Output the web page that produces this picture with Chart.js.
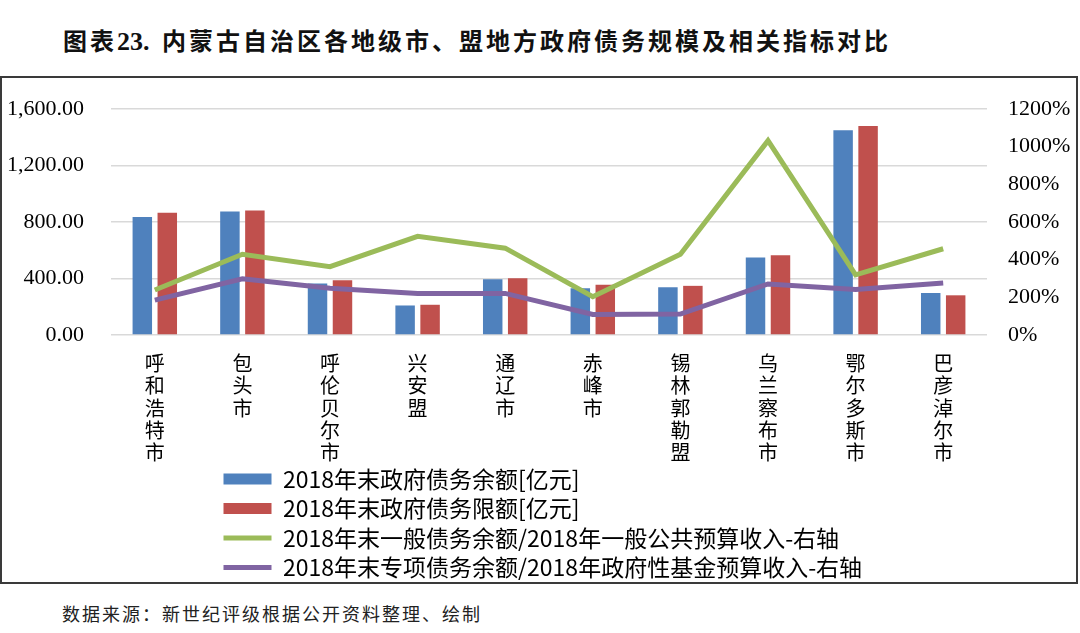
<!DOCTYPE html>
<html>
<head>
<meta charset="utf-8">
<title>内蒙古自治区各地级市、盟地方政府债务规模及相关指标对比</title>
<script src="https://cdn.jsdelivr.net/npm/chart.js"></script>
<style>
    body {
        margin: 0;
        background: #fff;
        width: 1080px;
        height: 633px;
        overflow: hidden;
        position: relative;
        font-family: 'Noto Sans CJK SC', sans-serif;
    }
    .title {
        position: absolute;
        left: 63px;
        top: 24px;
        font-size: 24px;
        font-weight: bold;
        letter-spacing: 3px;
        color: #111;
        white-space: nowrap;
        line-height: 32px;
    }
    .title .num {
        font-family: 'Liberation Serif', serif;
        font-size: 26px;
        letter-spacing: 0;
        margin-right: 4px;
    }
    .chart-box {
        position: absolute;
        left: 0;
        top: 76px;
        width: 1078px;
        height: 508px;
        border: 2px solid #3a3a3a;
        box-sizing: border-box;
    }
    .source {
        position: absolute;
        left: 62px;
        top: 600px;
        font-size: 18px;
        letter-spacing: 2px;
        color: #222;
        line-height: 26px;
        white-space: nowrap;
    }
</style>
</head>
<body>
<div class="title">图表<span class="num">23.</span> 内蒙古自治区各地级市、盟地方政府债务规模及相关指标对比</div>
<div class="chart-box"><canvas id="chart" width="1074" height="504"></canvas></div>
<div class="source">数据来源：新世纪评级根据公开资料整理、绘制</div>

<script>
    // data
    const cities = ['呼和浩特市', '包头市', '呼伦贝尔市', '兴安盟', '通辽市', '赤峰市', '锡林郭勒盟', '乌兰察布市', '鄂尔多斯市', '巴彦淖尔市'];
    const debtBalance = [836, 874, 364, 209, 395, 331, 338, 548, 1450, 298];   // 亿元
    const debtLimit = [866, 881, 388, 214, 402, 355, 348, 564, 1479, 281];     // 亿元
    const generalRatio = [239, 429, 363, 524, 461, 203, 429, 1032, 319, 458];  // %
    const specialRatio = [185, 298, 248, 221, 221, 109, 111, 271, 242, 276];   // %
    const leftTicks = [0, 400, 800, 1200, 1600];
    const rightTicks = [0, 200, 400, 600, 800, 1000, 1200];

    const seriesNames = [
        '2018年末政府债务余额[亿元]',
        '2018年末政府债务限额[亿元]',
        '2018年末一般债务余额/2018年一般公共预算收入-右轴',
        '2018年末专项债务余额/2018年政府性基金预算收入-右轴'
    ];
    const colors = ['#4F81BD', '#C0504D', '#9BBB59', '#8064A2'];

    const CANVAS_H = 504;
    const AREA_BOTTOM = 257;

    // put the legend rows where the reference has them
    const legendPlacer = {
        id: 'legendPlacer',
        afterLayout(chart) {
            const lg = chart.legend;
            lg.left = 215;
            lg.right = 870;
            lg.top = 383;
        }
    };

    const serifTicks = { family: "'Liberation Serif', 'Times New Roman', serif", size: 22 };

    // tick padding should not push the plot area in
    function noVPad(scale) {
        scale.paddingTop = 0;
        scale.paddingBottom = 0;
    }

    new Chart(document.getElementById('chart'), {
        type: 'bar',
        data: {
            labels: cities.map(c => Array.from(c)),
            datasets: [
                {
                    label: seriesNames[0],
                    data: debtBalance,
                    backgroundColor: colors[0],
                    yAxisID: 'y',
                    order: 1,
                    categoryPercentage: 0.57,
                    barPercentage: 0.78
                },
                {
                    label: seriesNames[1],
                    data: debtLimit,
                    backgroundColor: colors[1],
                    yAxisID: 'y',
                    order: 1,
                    categoryPercentage: 0.57,
                    barPercentage: 0.78
                },
                {
                    type: 'line',
                    label: seriesNames[2],
                    data: generalRatio,
                    borderColor: colors[2],
                    backgroundColor: colors[2],
                    borderWidth: 5,
                    pointRadius: 0,
                    tension: 0,
                    yAxisID: 'y1',
                    order: 0
                },
                {
                    type: 'line',
                    label: seriesNames[3],
                    data: specialRatio,
                    borderColor: colors[3],
                    backgroundColor: colors[3],
                    borderWidth: 5,
                    pointRadius: 0,
                    tension: 0,
                    yAxisID: 'y1',
                    order: 0
                }
            ]
        },
        options: {
            responsive: false,
            animation: false,
            devicePixelRatio: 1,
            layout: { padding: { left: 3, right: 0, top: 31, bottom: 0 } },
            plugins: {
                tooltip: { enabled: false },
                legend: {
                    position: 'bottom',
                    align: 'start',
                    labels: {
                        usePointStyle: true,
                        pointStyleWidth: 48,
                        boxHeight: 11,
                        padding: 6.5,
                        color: '#000',
                        font: { family: "'Noto Sans CJK SC', sans-serif", size: 23 },
                        generateLabels(chart) {
                            const items = Chart.defaults.plugins.legend.labels.generateLabels(chart);
                            items.sort((a, b) => a.datasetIndex - b.datasetIndex);
                            return items.map(it => {
                                const isBar = it.datasetIndex < 2;
                                return Object.assign(it, {
                                    pointStyle: isBar ? 'rect' : 'line',
                                    lineWidth: isBar ? 0 : 5,
                                    fillStyle: colors[it.datasetIndex],
                                    strokeStyle: colors[it.datasetIndex],
                                    fontColor: '#000'
                                });
                            });
                        }
                    }
                }
            },
            scales: {
                x: {
                    grid: { display: false, drawTicks: false },
                    border: { display: false },
                    ticks: {
                        color: '#000',
                        padding: 17,
                        maxRotation: 0,
                        autoSkip: false,
                        font: { family: "'Noto Sans CJK SC', sans-serif", size: 20, lineHeight: 1.12 }
                    },
                    afterFit(scale) {
                        const lh = scale.chart.legend ? scale.chart.legend.height : 0;
                        scale.height = CANVAS_H - AREA_BOTTOM - lh;
                    }
                },
                y: {
                    position: 'left',
                    min: 0,
                    max: 1600,
                    afterBuildTicks(scale) {
                        scale.ticks = leftTicks.map(v => ({ value: v }));
                    },
                    grid: { color: '#d9d9d9', lineWidth: 1.5, drawTicks: false },
                    border: { display: false },
                    ticks: {
                        color: '#000',
                        padding: 27,
                        font: serifTicks,
                        callback: v => v.toLocaleString('en-US', { minimumFractionDigits: 2, maximumFractionDigits: 2 })
                    },
                    afterFit(scale) { scale.width = 106; noVPad(scale); }
                },
                y1: {
                    position: 'right',
                    min: 0,
                    max: 1200,
                    afterBuildTicks(scale) {
                        scale.ticks = rightTicks.map(v => ({ value: v }));
                    },
                    grid: { display: false, drawTicks: false },
                    border: { display: false },
                    ticks: {
                        color: '#000',
                        padding: 21,
                        font: serifTicks,
                        callback: v => v + '%'
                    },
                    afterFit(scale) { scale.width = 89; noVPad(scale); }
                }
            }
        },
        plugins: [legendPlacer]
    });
</script>
</body>
</html>
